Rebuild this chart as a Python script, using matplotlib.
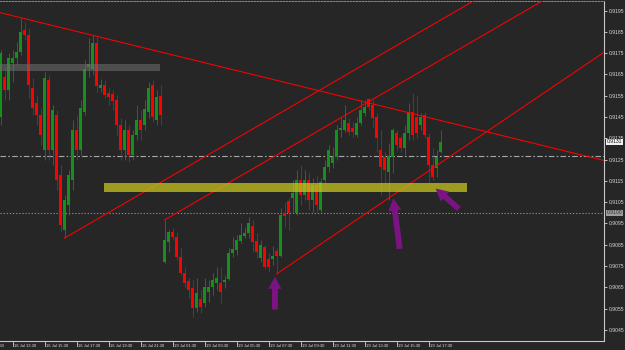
import matplotlib.pyplot as plt
import numpy as np

# 15 minute bars, 16 Jul (Fri) then 19 Jul (Mon); bar index 41 is the weekly open
opens = [0.91450, 0.91638, 0.91577, 0.91704, 0.91727, 0.91756, 0.91859, 0.91835, 0.91586, 0.91516,
         0.91459, 0.91295, 0.91624, 0.91295, 0.91459, 0.91177, 0.90919, 0.91036, 0.91154, 0.91389,
         0.91295, 0.91474, 0.91685, 0.91676, 0.91798, 0.91586, 0.91600, 0.91563, 0.91558, 0.91530,
         0.91412, 0.91295, 0.91389, 0.91271, 0.91365, 0.91436, 0.91412, 0.91474, 0.91600, 0.91436,
         0.91549,
         0.90769, 0.90863, 0.90910, 0.90886, 0.90792, 0.90717, 0.90679, 0.90646, 0.90552, 0.90595,
         0.90576, 0.90628, 0.90651, 0.90670, 0.90670, 0.90675, 0.90689, 0.90811, 0.90825, 0.90867,
         0.90891, 0.90905, 0.90938, 0.90867, 0.90787, 0.90839, 0.90783, 0.90783, 0.90820, 0.90797,
         0.90999, 0.91055, 0.91069, 0.90999, 0.91154, 0.91083, 0.91154, 0.91060, 0.91130, 0.91013,
         0.91154, 0.91215, 0.91234, 0.91262, 0.91389, 0.91389, 0.91422, 0.91398, 0.91365, 0.91422,
         0.91469, 0.91535, 0.91506, 0.91450, 0.91295, 0.91262, 0.91192, 0.91262, 0.91375, 0.91351,
         0.91304, 0.91375, 0.91474, 0.91450, 0.91412, 0.91459, 0.91356, 0.91224, 0.91210, 0.91286]
highs = [0.91765, 0.91685, 0.91751, 0.91765, 0.91803, 0.91915, 0.91897, 0.91868, 0.91633, 0.91553,
         0.91492, 0.91662, 0.91647, 0.91506, 0.91483, 0.91224, 0.91083, 0.91201, 0.91436, 0.91459,
         0.91530, 0.91718, 0.91821, 0.91835, 0.91826, 0.91629, 0.91624, 0.91586, 0.91577, 0.91553,
         0.91445, 0.91436, 0.91412, 0.91389, 0.91506, 0.91483, 0.91530, 0.91615, 0.91624, 0.91577,
         0.91600,
         0.90966, 0.90919, 0.90928, 0.90910, 0.90834, 0.90745, 0.90693, 0.90684, 0.90693, 0.90637,
         0.90693, 0.90684, 0.90717, 0.90745, 0.90745, 0.90707, 0.90834, 0.90886, 0.90896, 0.90952,
         0.90933, 0.90980, 0.90966, 0.90905, 0.90872, 0.90849, 0.90811, 0.90844, 0.90834, 0.91022,
         0.91051, 0.91069, 0.91154, 0.91201, 0.91224, 0.91201, 0.91192, 0.91163, 0.91177, 0.91163,
         0.91248, 0.91318, 0.91309, 0.91412, 0.91450, 0.91506, 0.91445, 0.91427, 0.91450, 0.91530,
         0.91530, 0.91539, 0.91530, 0.91469, 0.91389, 0.91286, 0.91328, 0.91398, 0.91389, 0.91365,
         0.91412, 0.91516, 0.91563, 0.91553, 0.91469, 0.91474, 0.91375, 0.91304, 0.91295, 0.91389]
lows = [0.91412, 0.91530, 0.91530, 0.91615, 0.91694, 0.91741, 0.91812, 0.91539, 0.91459, 0.91412,
        0.91318, 0.91248, 0.91248, 0.91224, 0.91107, 0.90910, 0.90881, 0.90989, 0.91107, 0.91248,
        0.91271, 0.91459, 0.91638, 0.91647, 0.91568, 0.91568, 0.91539, 0.91506, 0.91483, 0.91365,
        0.91248, 0.91248, 0.91239, 0.91248, 0.91342, 0.91342, 0.91389, 0.91445, 0.91427, 0.91412,
        0.91412,
        0.90764, 0.90816, 0.90872, 0.90778, 0.90707, 0.90646, 0.90599, 0.90510, 0.90534, 0.90529,
        0.90557, 0.90581, 0.90613, 0.90637, 0.90576, 0.90646, 0.90684, 0.90792, 0.90802, 0.90858,
        0.90881, 0.90881, 0.90816, 0.90787, 0.90769, 0.90736, 0.90722, 0.90755, 0.90712, 0.90792,
        0.90933, 0.90919, 0.90999, 0.90990, 0.91036, 0.91060, 0.91013, 0.91004, 0.91004, 0.91004,
        0.91130, 0.91192, 0.91210, 0.91248, 0.91356, 0.91380, 0.91365, 0.91356, 0.91356, 0.91412,
        0.91455, 0.91483, 0.91403, 0.91286, 0.91083, 0.91130, 0.91060, 0.91187, 0.91295, 0.91286,
        0.91271, 0.91342, 0.91342, 0.91351, 0.91389, 0.91351, 0.91140, 0.91154, 0.91168, 0.91281]
closes = [0.91751, 0.91577, 0.91727, 0.91727, 0.91756, 0.91850, 0.91835, 0.91600, 0.91492, 0.91459,
          0.91365, 0.91633, 0.91295, 0.91483, 0.91154, 0.90942, 0.91060, 0.91177, 0.91389, 0.91295,
          0.91492, 0.91676, 0.91699, 0.91798, 0.91596, 0.91600, 0.91553, 0.91544, 0.91525, 0.91412,
          0.91295, 0.91389, 0.91271, 0.91365, 0.91436, 0.91389, 0.91488, 0.91586, 0.91450, 0.91544,
          0.91459,
          0.90872, 0.90910, 0.90886, 0.90792, 0.90717, 0.90670, 0.90637, 0.90552, 0.90623, 0.90557,
          0.90651, 0.90651, 0.90684, 0.90693, 0.90628, 0.90684, 0.90811, 0.90830, 0.90872, 0.90896,
          0.90905, 0.90952, 0.90863, 0.90816, 0.90849, 0.90745, 0.90745, 0.90797, 0.90797, 0.90990,
          0.90985, 0.90999, 0.91093, 0.91154, 0.91083, 0.91154, 0.91060, 0.91130, 0.91036, 0.91145,
          0.91215, 0.91295, 0.91262, 0.91389, 0.91398, 0.91436, 0.91380, 0.91380, 0.91422, 0.91483,
          0.91497, 0.91497, 0.91445, 0.91351, 0.91215, 0.91201, 0.91267, 0.91389, 0.91318, 0.91304,
          0.91375, 0.91474, 0.91365, 0.91375, 0.91450, 0.91365, 0.91224, 0.91168, 0.91262, 0.91333]

# drawn objects: (bar, price) -> (bar, price)
trend_lines = [((0, 0.91940), (151, 0.91245)),
               ((16, 0.90881), (125, 0.92069)),
               ((41, 0.90966), (140, 0.92045)),
               ((69, 0.90712), (151, 0.91756))]
arrows = [((68.6, 0.90545), (68.6, 0.90700)),
          ((99.8, 0.90830), (98.2, 0.91068)),
          ((114.6, 0.91018), (108.8, 0.91114))]
grey_zone = (-1, 39.9, 0.91666, 0.91699)
yellow_zone = (25.9, 116.5, 0.91099, 0.91138)
bid_line = 0.91267
level_line = 0.9100

price_ticks = np.arange(0.9045, 0.91951, 0.001)
time_bars = [-5, 3, 11, 19, 27, 35, 43, 51, 59, 67, 75, 83, 91, 99, 107]
time_labels = ['16 Jul 11:30', '16 Jul 13:30', '16 Jul 15:30', '16 Jul 17:30', '16 Jul 19:30',
               '16 Jul 21:30', '19 Jul 01:30', '19 Jul 03:30', '19 Jul 05:30', '19 Jul 07:30',
               '19 Jul 09:30', '19 Jul 11:30', '19 Jul 13:30', '19 Jul 15:30', '19 Jul 17:30']

bg = '#262626'
up_col = '#15901a'
dn_col = '#ff0000'
purple = '#7a1482'

plt.rcParams['font.family'] = ['Liberation Sans', 'DejaVu Sans']

fig = plt.figure(figsize=(6.25, 3.5), dpi=100, facecolor=bg)
ax = fig.add_axes([0, 9 / 350, 604 / 625, 340 / 350])
ax.set_facecolor(bg)

o = np.array(opens); h = np.array(highs); l = np.array(lows); c = np.array(closes)
x = np.arange(len(o))
cols = np.where(c >= o, up_col, dn_col)

ax.vlines(x, l, h, colors=cols, lw=0.7, alpha=0.75, zorder=2)
ax.bar(x, np.maximum(np.abs(c - o), 0.00002), bottom=np.minimum(o, c), width=0.72,
       color=cols, linewidth=0, zorder=3)

# horizontal lines
ax.axhline(bid_line, color='#a8a8a8', lw=0.8, linestyle=(0, (5, 2, 1.5, 2)), zorder=1)
ax.axhline(level_line, color='#8a8a8a', lw=0.8, linestyle=(0, (1.2, 1.6)), zorder=1)

for (x0, p0), (x1, p1) in trend_lines:
    ax.plot([x0, x1], [p0, p1], color='#ff0000', lw=0.75, zorder=4)

gx0, gx1, gy0, gy1 = grey_zone
ax.fill_between([gx0, gx1], gy0, gy1, color='#707070', alpha=0.55, lw=0, zorder=5)
yx0, yx1, yy0, yy1 = yellow_zone
ax.fill_between([yx0, yx1], yy0, yy1, color='#c6c41e', alpha=0.75, lw=0, zorder=5)

for (tx, tp), (hx, hp) in arrows:
    ax.annotate('', xy=(hx, hp), xytext=(tx, tp),
                arrowprops=dict(arrowstyle='simple,head_length=0.8,head_width=0.85,tail_width=0.38',
                                mutation_scale=11, color=purple, lw=0,
                                shrinkA=0, shrinkB=0), zorder=6)

ax.set_xlim(-0.125, 150.875)
ax.set_ylim(0.903973, 0.919953)

# right price scale
ax.yaxis.tick_right()
ax.set_yticks(price_ticks)
ax.set_yticklabels(['%.4f' % p for p in price_ticks])
ax.tick_params(axis='y', colors='#d8d8d8', length=2, width=0.6, pad=1.5, labelsize=3.6)
ax.set_xticks([])

for b, lab in zip(time_bars, time_labels):
    ax.text(b + 0.3, -0.008, lab, transform=ax.get_xaxis_transform(), ha='left', va='top',
            fontsize=3.0, color='#e0e0e0', clip_on=False)
    ax.plot([b, b], [0, -0.016], transform=ax.get_xaxis_transform(), color='#d0d0d0',
            lw=0.6, clip_on=False)

ax.text(1.004, 0.91333, '0.9131', transform=ax.get_yaxis_transform(), ha='left', va='center',
        fontsize=3.6, color='#111111',
        bbox=dict(boxstyle='square,pad=0.15', fc='#f0f0f0', ec='none'))
ax.text(1.004, level_line, '0.9100', transform=ax.get_yaxis_transform(), ha='left', va='center',
        fontsize=3.6, color='#333333',
        bbox=dict(boxstyle='square,pad=0.15', fc='#9c9c9c', ec='none'))

ax.spines['left'].set_visible(False)
ax.spines['right'].set_color('#c8c8c8')
ax.spines['bottom'].set_color('#c8c8c8')
ax.spines['right'].set_linewidth(0.8)
ax.spines['bottom'].set_linewidth(0.8)
ax.spines['top'].set_color('#888888')
ax.spines['top'].set_linestyle((0, (1.5, 1.5)))
ax.spines['top'].set_linewidth(0.7)

fig.savefig('out.png', dpi=100, facecolor=bg)
